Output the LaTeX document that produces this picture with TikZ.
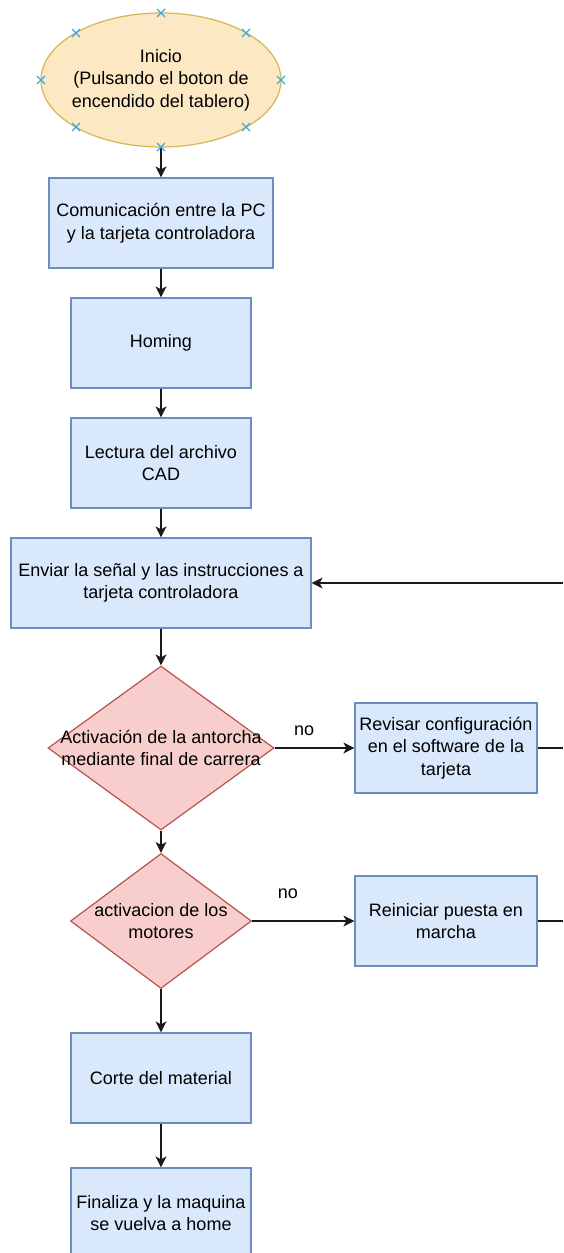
\documentclass[tikz,border=0pt]{standalone}
\usepackage{fontspec}
\setmainfont{Liberation Sans}
\usetikzlibrary{shapes.geometric,arrows.meta}
\definecolor{bfill}{HTML}{DAE8FC}
\definecolor{bstroke}{HTML}{6C8EBF}
\definecolor{efill}{HTML}{FDE8C4}
\definecolor{estroke}{HTML}{D6B656}
\definecolor{dfill}{HTML}{F8CECC}
\definecolor{dstroke}{HTML}{B85450}
\definecolor{xcol}{HTML}{3BA9E0}
\definecolor{lcol}{HTML}{1A1A1A}
\tikzset{
  txt/.style={font=\fontsize{18}{22.5}\selectfont, align=center},
  box/.style={txt, draw=bstroke, fill=bfill, line width=1.2pt, minimum width=180pt, minimum height=90pt, inner sep=0pt},
  startnode/.style={ellipse, draw=estroke, fill=efill, line width=1.2pt, minimum width=240pt, minimum height=134pt, inner sep=0pt},
  decision/.style={diamond, draw=dstroke, fill=dfill, line width=1.2pt, inner sep=0pt},
  dlbl/.style={txt, inner sep=0pt},
  arr/.style={draw=lcol, line width=1.4pt, -{Stealth[length=11pt,width=11pt,inset=3pt]}},
  plain/.style={draw=lcol, line width=1.4pt},
  xmark/.style={draw=xcol, line width=1.3pt},
  lbl/.style={txt, inner sep=0pt}
}
\begin{document}
\begin{tikzpicture}[x=1pt,y=-1pt]
\useasboundingbox (0,0) rectangle (563,1253);
\clip (0,0) rectangle (563,1253);
\fill[white] (0,0) rectangle (563,1253);

\node[startnode, label={[dlbl]center:{Inicio\\(Pulsando el boton de\\encendido del tablero)}}] (start) at (161,80) {};
\node[box, minimum width=224pt] (b1) at (161,223) {Comunicación entre la PC\\y la tarjeta controladora};
\node[box] (b2) at (161,343) {Homing};
\node[box] (b3) at (161,463) {Lectura del archivo\\CAD};
\node[box, minimum width=300pt] (b4) at (161,583) {Enviar la señal y las instrucciones a\\tarjeta controladora};
\node[decision, minimum width=226pt, minimum height=164pt, label={[dlbl]center:{Activación de la antorcha\\mediante final de carrera}}] (d1) at (161,748) {};
\node[box, minimum width=182pt] (b5) at (446,748) {Revisar configuración\\en el software de la\\tarjeta};
\node[decision, minimum width=181pt, minimum height=135pt, label={[dlbl]center:{activacion de los\\motores}}] (d2) at (161,921) {};
\node[box, minimum width=182pt] (b6) at (446,921) {Reiniciar puesta en\\marcha};
\node[box] (b7) at (161,1078) {Corte del material};
\node[box] (b8) at (161,1213) {Finaliza y la maquina\\se vuelva a home};

\coordinate (r4) at (563,583);
\coordinate (r5) at (563,748);
\coordinate (r6) at (563,921);

\draw[arr] (start.south) -- (b1.north);
\draw[arr] (b1.south) -- (b2.north);
\draw[arr] (b2.south) -- (b3.north);
\draw[arr] (b3.south) -- (b4.north);
\draw[arr] (b4.south) -- (d1.north);
\draw[arr] (r4) -- (b4.east);
\draw[arr] (d1.east) -- node[lbl, pos=0.37, above=12pt] {no} (b5.west);
\draw[plain] (b5.east) -- (r5);
\draw[arr] (d1.south) -- (d2.north);
\draw[arr] (d2.east) -- node[lbl, pos=0.35, above=22pt] {no} (b6.west);
\draw[plain] (b6.east) -- (r6);
\draw[arr] (d2.south) -- (b7.north);
\draw[arr] (b7.south) -- (b8.north);

\foreach \px/\py in {161/13,161/147,41/80,281/80,76/33,246/33,76/127,246/127}{
  \draw[xmark] (\px-4,\py-4) -- (\px+4,\py+4) (\px-4,\py+4) -- (\px+4,\py-4);
}
\end{tikzpicture}
\end{document}
